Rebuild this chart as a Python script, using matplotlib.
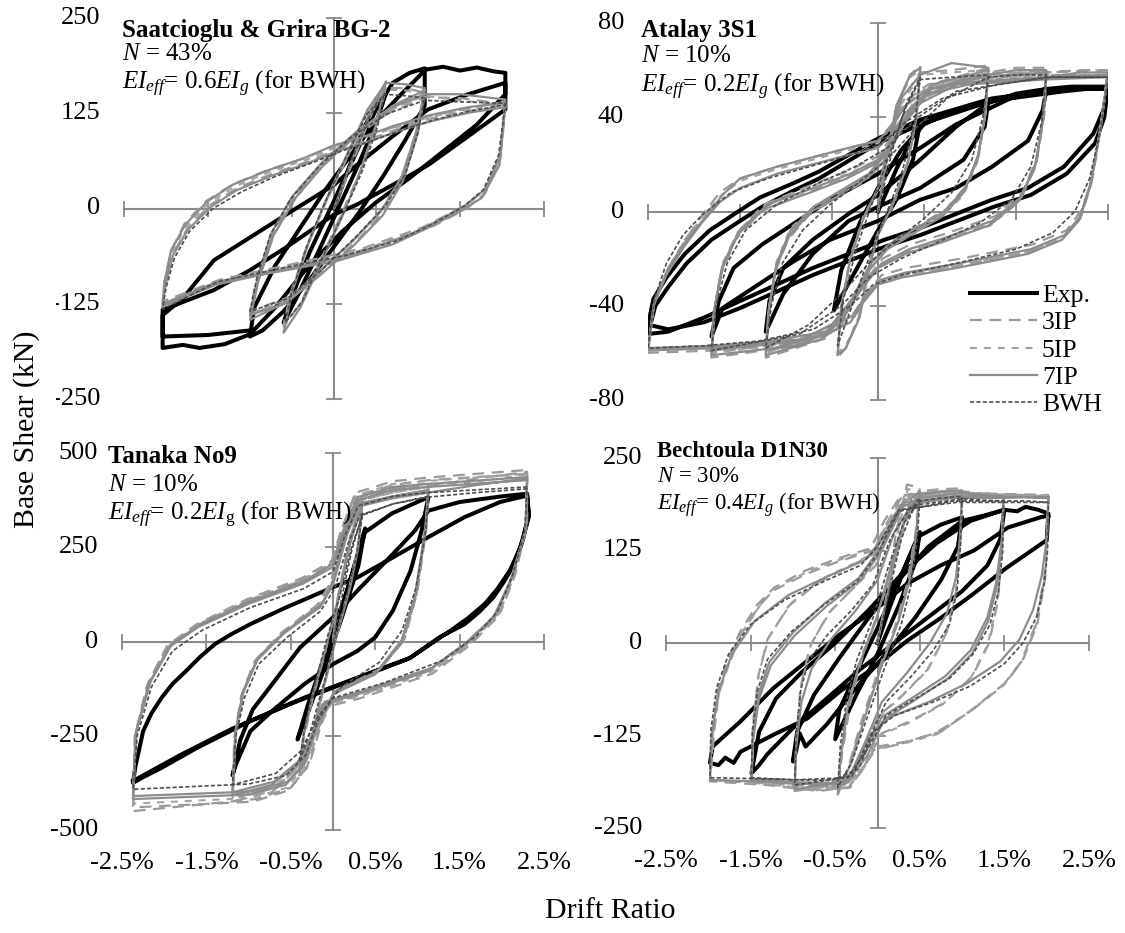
import matplotlib
matplotlib.use("Agg")
import matplotlib.pyplot as plt
from matplotlib import transforms
from matplotlib.patches import Rectangle

plt.rcParams.update({
    "font.family": ["Liberation Serif", "DejaVu Serif"],
    "mathtext.fontset": "custom",
    "mathtext.rm": "Liberation Serif",
    "mathtext.it": "Liberation Serif:italic",
    "mathtext.bf": "Liberation Serif:bold",
    "lines.scale_dashes": False,
})

# ---------------------------------------------------------------------------
# Hysteresis paths: (drift ratio in %, base shear in kN)
# ---------------------------------------------------------------------------

# Saatcioglu & Grira BG-2
SG_EXP = [
    (0.00, 0), (0.15, 45), (0.35, 105), (0.55, 145), (0.62, 152),
    (0.52, 118), (0.30, 60), (0.05, 0), (-0.20, -60), (-0.45, -118), (-0.60, -150),
    (-0.50, -115), (-0.28, -55), (0.00, 10), (0.25, 70), (0.50, 130),
    (0.70, 165), (0.90, 178), (1.08, 184),
    (1.08, 135), (0.85, 90), (0.60, 45), (0.30, -5), (0.00, -50), (-0.30, -95), (-0.60, -135), (-0.85, -160), (-1.00, -168),
    (-0.95, -130), (-0.70, -75), (-0.40, -25), (-0.10, 25), (0.20, 70), (0.50, 115), (0.80, 150), (1.00, 172),
    (1.08, 182), (1.30, 186), (1.50, 181), (1.70, 185), (1.90, 180), (2.04, 178),
    (2.04, 150), (1.70, 110), (1.30, 75), (0.90, 40), (0.50, 8), (0.10, -30), (-0.30, -75), (-0.70, -130), (-1.00, -165),
    (-1.30, -178), (-1.60, -183), (-1.80, -179), (-2.04, -183),
    (-2.04, -140), (-1.80, -118), (-1.43, -68), (-1.00, -38), (-0.57, -8), (0.00, 31), (0.27, 57), (0.70, 95), (1.12, 130), (1.60, 150), (2.04, 165),
    (2.04, 130), (1.55, 91), (1.12, 57), (0.70, 31), (0.27, 5), (0.00, -8), (-0.57, -51), (-1.00, -81), (-1.43, -107), (-2.04, -133),
    (-2.04, -168), (-1.50, -166), (-1.00, -160),
]
SG_3IP = [
    (0.00, 0), (0.22, 60), (0.45, 125), (0.62, 160),
    (0.52, 115), (0.32, 50), (0.10, -5), (-0.15, -65), (-0.40, -125), (-0.60, -155),
    (-0.52, -112), (-0.32, -48), (-0.10, 8), (0.15, 65), (0.40, 125), (0.62, 158),
    (0.85, 158), (1.08, 152),
    (0.99, 105), (0.82, 45), (0.58, 0), (0.25, -40), (-0.15, -80), (-0.55, -118), (-1.00, -140),
    (-0.92, -100), (-0.75, -40), (-0.50, 10), (-0.15, 55), (0.25, 95), (0.65, 128), (1.08, 150),
    (1.00, 100), (0.84, 42), (0.60, -3), (0.27, -43), (-0.13, -82), (-0.53, -116), (-1.00, -135),
    (-0.93, -97), (-0.76, -38), (-0.52, 12), (-0.17, 52), (0.23, 92), (0.63, 124), (1.08, 146),
    (1.50, 145), (2.04, 137),
    (1.98, 65), (1.80, 20), (1.58, 0), (1.20, -22), (0.75, -42), (0.10, -62), (-0.50, -76), (-1.35, -95), (-2.04, -130),
    (-2.01, -100), (-1.92, -60), (-1.74, -25), (-1.47, 5), (-1.15, 27), (-0.75, 45), (-0.30, 62), (0.05, 78), (0.35, 88),
    (0.75, 104), (1.15, 118), (1.60, 128), (2.04, 134),
    (1.99, 75), (1.83, 30), (1.60, 6), (1.05, -25), (0.35, -52), (-0.45, -72), (-1.35, -93), (-2.04, -122),
    (-2.02, -96), (-1.94, -56), (-1.78, -20), (-1.52, 10), (-1.20, 32), (-0.80, 50), (-0.35, 66), (0.00, 82), (0.30, 92),
    (0.72, 107), (1.12, 121), (1.58, 131), (2.04, 140),
]
SG_5IP = [
    (0.00, 0), (0.21, 58), (0.46, 128), (0.62, 158),
    (0.51, 112), (0.31, 48), (0.09, -8), (-0.16, -68), (-0.41, -128), (-0.60, -152),
    (-0.51, -112), (-0.31, -46), (-0.09, 9), (0.16, 68), (0.41, 128), (0.62, 156),
    (0.85, 155), (1.08, 150),
    (0.98, 102), (0.81, 42), (0.56, -3), (0.22, -43), (-0.18, -83), (-0.58, -122), (-1.00, -138),
    (-0.91, -98), (-0.73, -38), (-0.47, 12), (-0.12, 58), (0.28, 98), (0.68, 131), (1.08, 148),
    (1.50, 142), (2.04, 135),
    (1.97, 60), (1.78, 17), (1.54, -2), (1.15, -24), (0.72, -45), (0.08, -66), (-0.55, -79), (-1.40, -97), (-2.04, -128),
    (-2.02, -99), (-1.93, -58), (-1.76, -23), (-1.49, 7), (-1.18, 29), (-0.77, 48), (-0.33, 64), (0.02, 80), (0.30, 90),
    (0.72, 106), (1.14, 120), (1.60, 130), (2.04, 136),
    (1.98, 72), (1.81, 27), (1.57, 4), (1.02, -28), (0.32, -55), (-0.48, -75), (-1.38, -97), (-2.04, -125),
]
SG_7IP = [
    (0.00, 0), (0.20, 60), (0.45, 130), (0.62, 167),
    (0.50, 110), (0.30, 45), (0.10, -10), (-0.15, -70), (-0.40, -130), (-0.60, -163),
    (-0.50, -110), (-0.30, -45), (-0.10, 10), (0.15, 70), (0.40, 130), (0.62, 165),
    (0.85, 163), (1.08, 158),
    (0.98, 100), (0.80, 40), (0.55, -5), (0.20, -45), (-0.20, -85), (-0.60, -125), (-1.00, -146),
    (-0.90, -95), (-0.72, -35), (-0.45, 15), (-0.10, 60), (0.30, 100), (0.70, 135), (1.08, 155),
    (0.99, 96), (0.82, 36), (0.58, -9), (0.23, -49), (-0.17, -88), (-0.57, -124), (-1.00, -140),
    (-0.91, -91), (-0.74, -31), (-0.48, 18), (-0.13, 62), (0.27, 101), (0.67, 132), (1.08, 150),
    (1.50, 150), (2.04, 143),
    (1.97, 57), (1.76, 14), (1.51, -3), (1.12, -25), (0.70, -47), (0.06, -68), (-0.57, -81), (-1.43, -98), (-2.04, -125),
    (-2.02, -98), (-1.94, -55), (-1.77, -21), (-1.51, 9), (-1.21, 31), (-0.79, 50), (-0.36, 66), (0.00, 83), (0.27, 91),
    (0.70, 108), (1.12, 122), (1.60, 133), (2.04, 139),
    (1.98, 70), (1.80, 25), (1.55, 3), (1.00, -30), (0.30, -58), (-0.50, -78), (-1.40, -100), (-2.04, -128),
    (-2.01, -102), (-1.92, -62), (-1.74, -28), (-1.47, 2), (-1.16, 24), (-0.74, 43), (-0.30, 60), (0.05, 76), (0.33, 85),
    (0.75, 101), (1.17, 115), (1.62, 126), (2.04, 133),
]
SG_BWH = [
    (0.00, 0), (0.18, 55), (0.42, 120), (0.60, 150),
    (0.52, 108), (0.34, 50), (0.14, 0), (-0.12, -60), (-0.38, -122), (-0.58, -150),
    (-0.50, -108), (-0.32, -48), (-0.12, 5), (0.12, 62), (0.38, 122), (0.60, 150),
    (0.85, 148), (1.08, 145),
    (1.00, 100), (0.85, 45), (0.62, 5), (0.28, -35), (-0.12, -78), (-0.55, -118), (-1.00, -135),
    (-0.92, -92), (-0.76, -35), (-0.52, 12), (-0.18, 55), (0.22, 95), (0.65, 125), (1.08, 142),
    (1.50, 140), (2.04, 138),
    (1.96, 70), (1.78, 25), (1.56, 4), (1.18, -20), (0.76, -42), (0.12, -62), (-0.52, -76), (-1.38, -96), (-2.04, -132),
    (-2.00, -104), (-1.90, -65), (-1.72, -30), (-1.44, 0), (-1.10, 22), (-0.70, 42), (-0.26, 60), (0.08, 75), (0.38, 86),
    (0.78, 102), (1.18, 116), (1.62, 128), (2.04, 136),
]

# Atalay 3S1
AT_EXP = [
    (0.00, 0), (0.20, 18), (0.46, 38),
    (0.38, 22), (0.20, 5), (0.00, -8), (-0.20, -22), (-0.48, -42),
    (-0.40, -25), (-0.20, -5), (0.00, 10), (0.25, 26), (0.50, 37),
    (0.85, 43), (1.20, 47),
    (1.16, 36), (0.93, 22), (0.46, 10), (0.00, 2), (-0.32, -4), (-0.71, -18), (-1.03, -35), (-1.22, -51),
    (-1.18, -38), (-1.03, -24), (-0.71, -12), (-0.32, -1), (0.00, 7), (0.46, 22), (0.85, 36), (1.20, 46),
    (1.50, 50), (1.83, 52),
    (1.79, 43), (1.63, 30), (1.24, 19), (0.85, 10), (0.46, 5), (0.00, -4), (-0.52, -12), (-0.91, -21), (-1.30, -31),
    (-1.69, -41), (-1.81, -53),
    (-1.73, -38), (-1.57, -24), (-1.26, -14), (-0.91, -5), (-0.52, 5), (0.00, 16), (0.46, 27), (0.85, 37), (1.44, 48), (1.83, 52),
    (2.10, 53), (2.50, 53),
    (2.45, 43), (2.34, 33), (2.02, 19), (1.63, 10), (1.24, 5), (0.85, -1), (0.46, -7), (0.07, -12), (-0.71, -24),
    (-1.10, -31), (-1.50, -38), (-1.89, -45), (-2.28, -51), (-2.50, -52),
    (-2.42, -40), (-2.28, -32), (-2.08, -22), (-1.81, -12), (-1.50, -4), (-1.26, 2), (-0.91, 9), (-0.64, 14), (0.00, 29),
    (0.46, 37), (1.24, 47), (2.02, 51), (2.50, 53),
    (2.46, 40), (2.36, 29), (2.05, 16), (1.66, 7), (1.26, 2), (0.86, -4), (0.46, -10), (0.07, -15), (-0.71, -27),
    (-1.10, -34), (-1.50, -41), (-1.89, -47), (-2.28, -50), (-2.50, -48),
    (-2.44, -37), (-2.30, -28), (-2.10, -18), (-1.83, -8), (-1.52, 0), (-1.28, 6), (-0.92, 12), (-0.64, 17), (0.00, 31),
    (0.46, 39), (1.24, 48), (2.02, 52), (2.50, 52),
]
AT_3IP = [
    (0.00, 0), (0.10, 24), (0.20, 44), (0.35, 58), (0.46, 62),
    (0.42, 42), (0.33, 22), (0.16, 3), (0.00, -9), (-0.10, -24), (-0.20, -44), (-0.35, -58), (-0.44, -62),
    (-0.40, -42), (-0.31, -22), (-0.16, -3), (0.00, 9), (0.10, 24), (0.25, 47), (0.46, 59),
    (0.80, 60), (1.20, 62),
    (1.17, 42), (1.09, 23), (0.94, 9), (0.72, -1), (0.42, -8), (0.12, -15), (-0.08, -24), (-0.28, -39), (-0.58, -54), (-1.22, -62),
    (-1.19, -42), (-1.11, -23), (-0.96, -9), (-0.72, 1), (-0.42, 8), (-0.12, 15), (0.08, 24), (0.28, 39), (0.58, 54), (1.20, 61),
    (1.17, 43), (1.10, 25), (0.96, 11), (0.74, 1), (0.44, -6), (0.14, -13), (-0.06, -21), (-0.26, -36), (-0.56, -51), (-1.22, -60),
    (-1.19, -44), (-1.12, -26), (-0.98, -12), (-0.74, -1), (-0.44, 6), (-0.14, 13), (0.06, 21), (0.26, 36), (0.56, 51), (1.20, 59),
    (1.50, 61), (1.83, 61),
    (1.80, 40), (1.72, 20), (1.55, 5), (1.24, -5), (0.74, -12), (0.32, -17), (0.02, -23), (-0.18, -33), (-0.43, -49),
    (-0.88, -57), (-1.81, -62),
    (-1.78, -42), (-1.70, -24), (-1.53, -9), (-1.24, 3), (-0.74, 11), (-0.34, 17), (-0.02, 23), (0.18, 33), (0.43, 49),
    (0.88, 57), (1.83, 60),
    (1.81, 42), (1.73, 23), (1.57, 8), (1.27, -2), (0.77, -9), (0.35, -14), (0.05, -20), (-0.15, -30), (-0.40, -46),
    (-0.85, -55), (-1.81, -60),
    (-1.79, -44), (-1.71, -27), (-1.55, -12), (-1.27, 0), (-0.77, 8), (-0.37, 14), (-0.05, 20), (0.15, 30), (0.40, 46),
    (0.85, 55), (1.83, 59),
    (2.20, 60), (2.50, 60),
    (2.42, 36), (2.32, 12), (2.20, -3), (2.02, -11), (1.65, -17), (0.88, -23), (0.28, -27), (0.02, -30), (-0.13, -37),
    (-0.28, -46), (-0.58, -53), (-1.18, -57), (-1.78, -59), (-2.50, -60),
    (-2.44, -40), (-2.30, -26), (-2.11, -13), (-1.92, -2), (-1.72, 8), (-1.50, 14), (-1.10, 19), (-0.71, 23), (-0.32, 27),
    (0.00, 30), (0.15, 37), (0.30, 47), (0.55, 54), (1.00, 57), (1.80, 59), (2.50, 60),
    (2.43, 38), (2.34, 16), (2.22, 1), (2.05, -8), (1.68, -14), (0.90, -20), (0.30, -24), (0.04, -27), (-0.11, -34),
    (-0.26, -43), (-0.56, -51), (-1.16, -55), (-1.76, -57), (-2.50, -58),
]
AT_5IP = [
    (0.00, 0), (0.11, 24), (0.21, 45), (0.35, 57), (0.46, 60),
    (0.42, 41), (0.33, 21), (0.16, 2), (0.00, -9), (-0.11, -24), (-0.21, -45), (-0.35, -57), (-0.44, -60),
    (-0.40, -41), (-0.31, -21), (-0.16, -2), (0.00, 9), (0.11, 24), (0.26, 46), (0.46, 58),
    (0.80, 59), (1.20, 60),
    (1.16, 41), (1.08, 21), (0.93, 7), (0.70, -2), (0.40, -9), (0.10, -16), (-0.10, -25), (-0.30, -40), (-0.60, -53), (-1.22, -60),
    (-1.18, -41), (-1.10, -21), (-0.95, -7), (-0.70, 2), (-0.40, 9), (-0.10, 16), (0.10, 25), (0.30, 40), (0.60, 53), (1.20, 59),
    (1.50, 59), (1.83, 59),
    (1.79, 39), (1.71, 19), (1.53, 4), (1.22, -6), (0.72, -12), (0.30, -18), (0.00, -24), (-0.20, -34), (-0.45, -50),
    (-0.90, -56), (-1.81, -60),
    (-1.77, -40), (-1.69, -22), (-1.51, -8), (-1.22, 3), (-0.72, 11), (-0.32, 16), (0.00, 22), (0.20, 32), (0.45, 48),
    (0.90, 55), (1.83, 58),
    (2.20, 58), (2.50, 58),
    (2.41, 34), (2.31, 11), (2.19, -3), (2.01, -11), (1.64, -17), (0.86, -23), (0.27, -27), (0.00, -30), (-0.14, -37),
    (-0.29, -46), (-0.59, -52), (-1.19, -56), (-1.79, -58), (-2.50, -59),
    (-2.43, -39), (-2.29, -25), (-2.10, -12), (-1.90, -2), (-1.70, 7), (-1.50, 13), (-1.10, 18), (-0.71, 22), (-0.32, 26),
    (0.00, 29), (0.15, 36), (0.30, 46), (0.55, 53), (1.00, 56), (1.80, 58), (2.50, 58),
]
AT_7IP = [
    (0.00, 0), (0.10, 25), (0.20, 45), (0.35, 58), (0.46, 61),
    (0.42, 40), (0.32, 20), (0.15, 2), (0.00, -10), (-0.10, -25), (-0.20, -45), (-0.35, -58), (-0.44, -61),
    (-0.40, -40), (-0.30, -20), (-0.15, -2), (0.00, 10), (0.10, 25), (0.25, 48), (0.46, 58),
    (0.80, 63), (1.20, 61),
    (1.16, 40), (1.08, 22), (0.93, 8), (0.70, -2), (0.40, -9), (0.10, -16), (-0.10, -25), (-0.30, -40), (-0.60, -54), (-1.22, -61),
    (-1.18, -40), (-1.10, -22), (-0.95, -8), (-0.70, 2), (-0.40, 9), (-0.10, 16), (0.10, 25), (0.30, 40), (0.60, 54), (1.20, 60),
    (1.17, 42), (1.09, 24), (0.95, 10), (0.72, 0), (0.42, -7), (0.12, -14), (-0.08, -22), (-0.28, -37), (-0.58, -52), (-1.22, -59),
    (-1.19, -42), (-1.11, -24), (-0.96, -10), (-0.72, 0), (-0.42, 7), (-0.12, 14), (0.08, 22), (0.28, 37), (0.58, 52), (1.20, 58),
    (1.50, 60), (1.83, 60),
    (1.79, 38), (1.70, 18), (1.52, 4), (1.20, -6), (0.70, -13), (0.30, -18), (0.00, -24), (-0.20, -34), (-0.45, -50),
    (-0.90, -57), (-1.81, -61),
    (-1.77, -40), (-1.68, -22), (-1.50, -8), (-1.20, 3), (-0.70, 10), (-0.30, 16), (0.00, 22), (0.20, 32), (0.45, 48),
    (0.90, 56), (1.83, 59),
    (1.80, 41), (1.72, 21), (1.55, 6), (1.24, -4), (0.74, -11), (0.34, -16), (0.04, -22), (-0.16, -31), (-0.41, -46),
    (-0.86, -55), (-1.81, -59),
    (-1.78, -42), (-1.70, -25), (-1.53, -10), (-1.24, 1), (-0.74, 8), (-0.34, 14), (-0.04, 20), (0.16, 29), (0.41, 45),
    (0.86, 54), (1.83, 57),
    (2.20, 59), (2.50, 59),
    (2.41, 33), (2.30, 10), (2.18, -4), (2.00, -12), (1.63, -18), (0.85, -24), (0.26, -28), (0.00, -31), (-0.15, -38),
    (-0.30, -47), (-0.60, -53), (-1.20, -56), (-1.80, -58), (-2.50, -59),
    (-2.43, -38), (-2.28, -24), (-2.08, -12), (-1.89, -3), (-1.69, 7), (-1.50, 14), (-1.10, 19), (-0.71, 23), (-0.32, 27),
    (0.00, 30), (0.15, 36), (0.30, 45), (0.55, 52), (1.00, 55), (1.80, 57), (2.50, 58),
    (2.42, 36), (2.32, 13), (2.20, -2), (2.03, -10), (1.66, -16), (0.88, -22), (0.29, -26), (0.03, -29), (-0.12, -35),
    (-0.27, -44), (-0.57, -51), (-1.17, -55), (-1.77, -57), (-2.50, -58),
    (-2.44, -40), (-2.30, -27), (-2.11, -15), (-1.92, -5), (-1.72, 4), (-1.50, 10), (-1.10, 16), (-0.71, 20), (-0.32, 24),
    (0.00, 27), (0.15, 33), (0.30, 42), (0.55, 50), (1.00, 54), (1.80, 56), (2.50, 57),
]
AT_BWH = [
    (0.00, 0), (0.15, 25), (0.30, 45), (0.46, 57),
    (0.40, 38), (0.25, 15), (0.05, -5), (-0.15, -25), (-0.30, -42), (-0.44, -57),
    (-0.38, -38), (-0.23, -15), (-0.05, 5), (0.15, 27), (0.30, 44), (0.46, 56),
    (0.80, 57), (1.20, 58),
    (1.14, 40), (1.02, 22), (0.80, 8), (0.50, -3), (0.20, -12), (-0.10, -22), (-0.40, -35), (-0.75, -48), (-1.22, -58),
    (-1.16, -40), (-1.04, -22), (-0.82, -8), (-0.52, 3), (-0.22, 12), (0.10, 22), (0.40, 35), (0.75, 48), (1.20, 57),
    (1.50, 58), (1.83, 58),
    (1.78, 38), (1.66, 19), (1.45, 5), (1.10, -5), (0.65, -13), (0.25, -20), (-0.10, -28), (-0.40, -40), (-0.85, -52), (-1.81, -59),
    (-1.76, -40), (-1.64, -22), (-1.44, -8), (-1.10, 3), (-0.65, 12), (-0.25, 19), (0.10, 27), (0.40, 39), (0.85, 51), (1.83, 57),
    (2.20, 57), (2.50, 57),
    (2.42, 35), (2.30, 14), (2.14, 0), (1.90, -9), (1.50, -16), (0.85, -22), (0.25, -27), (-0.05, -31), (-0.30, -40),
    (-0.70, -50), (-1.30, -55), (-1.90, -57), (-2.50, -58),
    (-2.43, -37), (-2.30, -22), (-2.12, -10), (-1.90, -1), (-1.60, 8), (-1.20, 14), (-0.75, 19), (-0.30, 24), (0.05, 29),
    (0.30, 38), (0.70, 48), (1.30, 54), (1.90, 57), (2.50, 57),
]

# Tanaka No9
TN_EXP = [
    (0.00, 0), (0.10, 80), (0.25, 200), (0.38, 300),
    (0.30, 200), (0.10, 60), (-0.10, -70), (-0.30, -190), (-0.42, -260),
    (-0.30, -170), (-0.10, -40), (0.10, 90), (0.30, 230), (0.38, 290),
    (0.70, 340), (1.13, 383),
    (1.05, 294), (0.92, 188), (0.71, 82), (0.50, 11), (0.29, -25), (0.00, -60), (-0.34, -113), (-0.72, -184),
    (-0.98, -238), (-1.15, -326), (-1.19, -355),
    (-1.10, -262), (-0.95, -180), (-0.72, -113), (-0.39, -16), (0.00, 64), (0.29, 135), (0.71, 232), (0.97, 294), (1.13, 347),
    (1.50, 370), (2.00, 385), (2.30, 392),
    (2.32, 339), (2.25, 270), (2.15, 206), (2.03, 160), (1.90, 117), (1.73, 78), (1.56, 46), (1.26, 11), (0.92, -43),
    (0.29, -96), (-0.34, -149), (-0.98, -211), (-1.61, -282), (-2.03, -335), (-2.25, -360), (-2.37, -375),
    (-2.34, -330), (-2.30, -290), (-2.25, -238), (-2.15, -190), (-2.03, -149), (-1.90, -112), (-1.74, -78),
    (-1.58, -42), (-1.40, -7), (-1.20, 20), (-0.98, 46), (-0.56, 90), (0.00, 144),
    (0.29, 170), (0.71, 223), (1.13, 277), (1.56, 330), (1.98, 370), (2.30, 387),
    (2.32, 330), (2.22, 250), (2.10, 190), (1.95, 140), (1.80, 100), (1.60, 62), (1.40, 30), (0.90, -45),
    (0.20, -105), (-0.50, -165), (-1.20, -232), (-1.80, -300), (-2.37, -370),
]
TN_3IP = [
    (0.00, 0), (0.05, 110), (0.20, 275), (0.35, 390),
    (0.30, 260), (0.20, 150), (0.05, 25), (-0.10, -115), (-0.25, -260), (-0.40, -355),
    (-0.35, -262), (-0.25, -160), (-0.10, -35), (0.05, 105), (0.20, 272), (0.35, 385),
    (0.71, 405), (1.13, 420),
    (1.10, 300), (0.99, 125), (0.83, 0), (0.53, -80), (0.03, -135), (-0.19, -235), (-0.40, -330), (-0.70, -395), (-1.19, -425),
    (-1.16, -250), (-1.08, -140), (-0.92, -50), (-0.60, 25), (-0.17, 100), (0.00, 165), (0.15, 300), (0.28, 380),
    (0.71, 405), (1.13, 418),
    (1.11, 305), (1.00, 132), (0.85, 8), (0.56, -72), (0.06, -128), (-0.16, -226), (-0.37, -320), (-0.66, -385), (-1.19, -415),
    (-1.17, -258), (-1.09, -148), (-0.94, -58), (-0.63, 18), (-0.20, 92), (-0.03, 155), (0.13, 290), (0.26, 372),
    (0.71, 398), (1.13, 412),
    (1.70, 432), (2.30, 450),
    (2.29, 300), (2.13, 165), (1.95, 65), (1.62, -10), (1.18, -85), (0.33, -150), (-0.10, -175), (-0.19, -245),
    (-0.31, -335), (-0.53, -395), (-0.95, -425), (-2.37, -440),
    (-2.34, -245), (-2.19, -110), (-1.96, -10), (-1.62, 45), (-1.02, 112), (-0.37, 168), (0.00, 215), (0.11, 300),
    (0.27, 395), (0.71, 425), (1.13, 435), (2.30, 455),
    (2.30, 310), (2.16, 178), (1.99, 80), (1.67, 5), (1.23, -70), (0.38, -138), (-0.06, -165), (-0.16, -235),
    (-0.28, -325), (-0.50, -388), (-0.92, -418), (-2.37, -450),
    (-2.35, -255), (-2.21, -122), (-1.99, -22), (-1.66, 35), (-1.06, 104), (-0.40, 160), (-0.03, 205), (0.09, 290),
    (0.25, 385), (0.71, 415), (1.13, 428), (2.30, 445),
]
TN_5IP = [
    (0.00, 0), (0.05, 105), (0.20, 268), (0.35, 380),
    (0.30, 255), (0.20, 145), (0.05, 22), (-0.10, -112), (-0.25, -255), (-0.40, -350),
    (-0.35, -255), (-0.25, -155), (-0.10, -32), (0.05, 102), (0.20, 266), (0.35, 376),
    (0.71, 395), (1.13, 410),
    (1.10, 296), (0.98, 120), (0.81, -3), (0.51, -84), (0.01, -138), (-0.20, -236), (-0.41, -328), (-0.71, -388), (-1.19, -418),
    (-1.15, -244), (-1.07, -135), (-0.90, -46), (-0.58, 27), (-0.15, 100), (0.00, 163), (0.16, 297), (0.29, 372),
    (0.71, 395), (1.13, 410),
    (1.70, 424), (2.30, 443),
    (2.28, 297), (2.11, 163), (1.92, 64), (1.59, -8), (1.15, -82), (0.31, -145), (-0.12, -171), (-0.21, -242),
    (-0.33, -330), (-0.55, -388), (-0.97, -415), (-2.37, -430),
    (-2.33, -242), (-2.17, -107), (-1.93, -8), (-1.59, 46), (-1.00, 110), (-0.35, 164), (0.00, 210), (0.12, 297),
    (0.28, 388), (0.71, 418), (1.13, 426), (2.30, 445),
]
TN_7IP = [
    (0.00, 0), (0.05, 100), (0.20, 260), (0.35, 370),
    (0.30, 250), (0.20, 140), (0.05, 20), (-0.10, -110), (-0.25, -250), (-0.40, -345),
    (-0.35, -250), (-0.25, -150), (-0.10, -30), (0.05, 100), (0.20, 260), (0.35, 365),
    (0.71, 385), (1.13, 402),
    (1.09, 294), (0.97, 117), (0.80, -7), (0.50, -87), (0.00, -140), (-0.22, -238), (-0.43, -326), (-0.72, -380), (-1.19, -408),
    (-1.15, -238), (-1.06, -131), (-0.89, -43), (-0.56, 28), (-0.13, 99), (0.00, 161), (0.16, 294), (0.29, 365),
    (0.71, 385), (1.13, 400),
    (1.10, 300), (0.98, 125), (0.82, 5), (0.52, -80), (0.02, -132), (-0.20, -228), (-0.41, -318), (-0.70, -372), (-1.19, -400),
    (-1.16, -245), (-1.07, -138), (-0.90, -50), (-0.58, 22), (-0.15, 92), (0.00, 150), (0.17, 285), (0.30, 358),
    (0.71, 380), (1.13, 395),
    (1.70, 415), (2.30, 432),
    (2.28, 294), (2.10, 161), (1.90, 64), (1.56, -7), (1.13, -78), (0.29, -140), (-0.13, -167), (-0.22, -238),
    (-0.34, -326), (-0.56, -380), (-0.98, -406), (-2.37, -418),
    (-2.33, -238), (-2.16, -105), (-1.91, -7), (-1.57, 46), (-0.98, 108), (-0.34, 161), (0.00, 206), (0.12, 294),
    (0.29, 383), (0.71, 410), (1.13, 418), (2.30, 436),
    (2.29, 300), (2.12, 170), (1.93, 72), (1.60, 0), (1.17, -70), (0.33, -133), (-0.10, -160), (-0.20, -230),
    (-0.32, -318), (-0.54, -372), (-0.96, -398), (-2.37, -410),
    (-2.34, -245), (-2.18, -112), (-1.94, -15), (-1.60, 38), (-1.00, 100), (-0.36, 153), (0.00, 198), (0.13, 285),
    (0.30, 375), (0.71, 402), (1.13, 410), (2.30, 428),
]
TN_BWH = [
    (0.00, 0), (0.08, 90), (0.22, 240), (0.35, 340),
    (0.28, 230), (0.16, 120), (0.02, 0), (-0.12, -120), (-0.27, -240), (-0.40, -320),
    (-0.33, -220), (-0.21, -110), (-0.07, 10), (0.08, 120), (0.22, 250), (0.35, 335),
    (0.71, 365), (1.13, 385),
    (1.09, 280), (0.98, 140), (0.82, 30), (0.55, -55), (0.10, -120), (-0.18, -200), (-0.38, -290), (-0.68, -350), (-1.19, -380),
    (-1.15, -250), (-1.05, -150), (-0.88, -60), (-0.55, 10), (-0.15, 80), (0.02, 140), (0.18, 260), (0.32, 335),
    (0.71, 365), (1.13, 383),
    (1.70, 395), (2.30, 405),
    (2.27, 290), (2.12, 170), (1.95, 80), (1.70, 15), (1.30, -50), (0.60, -110), (0.00, -150), (-0.18, -210),
    (-0.32, -300), (-0.55, -355), (-1.00, -378), (-2.37, -392),
    (-2.32, -250), (-2.15, -120), (-1.90, -25), (-1.55, 30), (-0.98, 90), (-0.35, 140), (0.00, 185), (0.14, 280),
    (0.30, 360), (0.71, 385), (1.13, 395), (2.30, 410),
]

# Bechtoula D1N30
BC_EXP = [
    (0.00, 0), (0.15, 50), (0.35, 110), (0.50, 150),
    (0.45, 110), (0.25, 50), (0.00, -15), (-0.25, -70), (-0.50, -130),
    (-0.45, -90), (-0.25, -40), (0.00, 20), (0.25, 85), (0.50, 145),
    (0.75, 160), (1.00, 170),
    (0.95, 130), (0.75, 85), (0.45, 35), (0.10, -15), (-0.25, -60), (-0.60, -110), (-0.85, -140), (-0.92, -122),
    (-0.96, -145), (-1.00, -160),
    (-0.95, -120), (-0.75, -70), (-0.45, -20), (-0.10, 35), (0.25, 85), (0.60, 130), (1.00, 165),
    (1.25, 172), (1.50, 180),
    (1.45, 140), (1.30, 105), (1.00, 70), (0.60, 35), (0.20, 0), (-0.20, -35), (-0.60, -75), (-1.00, -115),
    (-1.30, -150), (-1.40, -165), (-1.49, -176),
    (-1.40, -120), (-1.20, -75), (-0.90, -40), (-0.50, 0), (-0.10, 45), (0.30, 95), (0.70, 135), (1.10, 165), (1.50, 180),
    (1.65, 178), (1.75, 184), (1.90, 180), (2.02, 175),
    (2.00, 139), (1.53, 102), (1.14, 67), (0.75, 34), (0.35, 3), (-0.05, -34), (-0.44, -65), (-0.83, -102),
    (-1.23, -124), (-1.62, -147), (-1.70, -162), (-1.80, -155), (-1.88, -165), (-1.98, -162),
    (-1.95, -140), (-1.62, -106), (-1.23, -61), (-0.83, -24), (-0.44, 12), (-0.05, 43), (0.35, 80), (0.75, 105),
    (1.14, 125), (1.54, 156), (1.93, 170), (2.02, 172),
]
BC_3IP = [
    (0.00, 0), (0.10, 60), (0.22, 150), (0.35, 214), (0.50, 210),
    (0.45, 150), (0.35, 80), (0.20, 20), (0.00, -40), (-0.20, -110), (-0.35, -170), (-0.47, -205),
    (-0.42, -150), (-0.32, -80), (-0.18, -20), (0.00, 40), (0.20, 110), (0.35, 175), (0.50, 205),
    (0.75, 208), (1.00, 209),
    (0.98, 140), (0.93, 70), (0.82, 15), (0.60, -35), (0.30, -70), (0.00, -100), (-0.15, -145), (-0.35, -190), (-0.98, -200),
    (-0.96, -130), (-0.91, -60), (-0.80, -5), (-0.58, 40), (-0.28, 75), (-0.02, 105), (0.15, 160), (0.40, 202), (1.00, 205),
    (1.25, 202), (1.49, 200),
    (1.47, 120), (1.42, 55), (1.32, 0), (1.12, -45), (0.80, -80), (0.40, -105), (0.05, -122), (-0.15, -165),
    (-0.40, -196), (-1.00, -192), (-1.49, -188),
    (-1.47, -110), (-1.41, -45), (-1.30, 5), (-1.05, 50), (-0.70, 82), (-0.30, 105), (-0.05, 120), (0.12, 160),
    (0.35, 198), (0.90, 200), (1.49, 200),
    (1.75, 200), (2.02, 198),
    (2.00, 140), (1.99, 94), (1.89, 26), (1.73, -20), (1.53, -52), (1.14, -88), (0.75, -120), (0.35, -133), (0.00, -140),
    (-0.15, -165), (-0.32, -195), (-0.70, -200), (-1.30, -192), (-1.98, -187),
    (-1.93, -120), (-1.88, -70), (-1.78, -34), (-1.62, 10), (-1.40, 50), (-1.23, 71), (-0.83, 94), (-0.44, 111),
    (-0.05, 125), (0.10, 160), (0.30, 200), (0.93, 203), (2.02, 200),
    (2.00, 135), (1.97, 88), (1.86, 22), (1.70, -25), (1.48, -58), (1.08, -94), (0.68, -122), (0.28, -136), (-0.05, -145),
    (-0.18, -172), (-0.35, -196), (-0.75, -198), (-1.35, -190), (-1.98, -185),
    (-1.94, -115), (-1.89, -65), (-1.79, -28), (-1.63, 14), (-1.42, 52), (-1.22, 75), (-0.85, 98), (-0.45, 115),
    (-0.08, 128), (0.08, 165), (0.28, 200), (0.93, 202), (2.02, 199),
]
BC_5IP = [
    (0.00, 0), (0.10, 58), (0.23, 145), (0.36, 208), (0.50, 205),
    (0.45, 145), (0.36, 78), (0.21, 18), (0.01, -42), (-0.19, -112), (-0.35, -170), (-0.47, -202),
    (-0.42, -145), (-0.33, -78), (-0.19, -18), (0.00, 38), (0.20, 108), (0.36, 172), (0.50, 202),
    (0.75, 205), (1.00, 206),
    (0.98, 135), (0.92, 65), (0.80, 10), (0.58, -38), (0.28, -73), (-0.02, -103), (-0.17, -148), (-0.37, -192), (-0.98, -198),
    (-0.96, -125), (-0.90, -55), (-0.78, 0), (-0.55, 44), (-0.25, 78), (0.00, 108), (0.17, 165), (0.42, 200), (1.00, 203),
    (1.25, 201), (1.49, 199),
    (1.47, 115), (1.41, 50), (1.30, -3), (1.10, -48), (0.77, -83), (0.37, -108), (0.02, -125), (-0.17, -168),
    (-0.42, -196), (-1.00, -190), (-1.49, -187),
    (-1.47, -105), (-1.40, -40), (-1.28, 9), (-1.02, 54), (-0.67, 86), (-0.27, 108), (-0.02, 123), (0.14, 165),
    (0.37, 198), (0.90, 199), (1.49, 199),
    (1.75, 199), (2.02, 197),
    (2.00, 136), (1.98, 90), (1.87, 22), (1.71, -24), (1.50, -56), (1.10, -92), (0.71, -123), (0.31, -136), (-0.03, -143),
    (-0.17, -168), (-0.34, -195), (-0.72, -199), (-1.32, -190), (-1.98, -185),
    (-1.94, -116), (-1.87, -66), (-1.76, -30), (-1.60, 14), (-1.37, 54), (-1.20, 75), (-0.80, 98), (-0.41, 114),
    (-0.03, 128), (0.12, 163), (0.32, 199), (0.93, 201), (2.02, 199),
]
BC_7IP = [
    (0.00, 0), (0.10, 55), (0.25, 140), (0.40, 195), (0.50, 205),
    (0.46, 150), (0.38, 85), (0.25, 30), (0.05, -30), (-0.15, -100), (-0.32, -165), (-0.47, -200),
    (-0.43, -150), (-0.35, -85), (-0.22, -30), (-0.02, 30), (0.15, 100), (0.32, 165), (0.50, 200),
    (0.75, 205), (1.00, 206),
    (0.98, 150), (0.93, 90), (0.82, 40), (0.62, 0), (0.35, -40), (0.05, -80), (-0.15, -135), (-0.35, -185), (-0.98, -198),
    (-0.96, -140), (-0.90, -80), (-0.78, -35), (-0.55, 5), (-0.25, 45), (0.00, 85), (0.20, 150), (0.45, 195), (1.00, 203),
    (1.25, 200), (1.49, 198),
    (1.47, 140), (1.40, 80), (1.30, 35), (1.10, -10), (0.80, -45), (0.40, -75), (0.05, -100), (-0.15, -150),
    (-0.40, -190), (-1.00, -190), (-1.49, -186),
    (-1.47, -130), (-1.40, -75), (-1.26, -30), (-0.98, 10), (-0.60, 50), (-0.20, 85), (0.05, 125), (0.30, 185),
    (0.90, 198), (1.49, 197),
    (1.47, 135), (1.41, 76), (1.31, 30), (1.12, -14), (0.83, -48), (0.43, -78), (0.08, -103), (-0.12, -152),
    (-0.37, -190), (-1.00, -188), (-1.49, -184),
    (-1.47, -125), (-1.41, -70), (-1.28, -26), (-1.00, 14), (-0.62, 54), (-0.22, 88), (0.03, 128), (0.28, 186),
    (0.90, 196), (1.49, 196),
    (1.75, 197), (2.02, 196),
    (2.00, 140), (1.94, 90), (1.84, 45), (1.68, 5), (1.45, -25), (1.05, -55), (0.60, -80), (0.15, -100), (-0.10, -125),
    (-0.28, -175), (-0.60, -192), (-1.20, -188), (-1.98, -185),
    (-1.96, -125), (-1.88, -65), (-1.72, -15), (-1.45, 30), (-1.05, 65), (-0.55, 92), (-0.15, 112), (0.05, 140),
    (0.30, 190), (0.93, 198), (2.02, 197),
]
BC_BWH = [
    (0.00, 0), (0.12, 60), (0.28, 140), (0.45, 190), (0.50, 195),
    (0.47, 140), (0.40, 80), (0.28, 25), (0.08, -35), (-0.12, -100), (-0.30, -160), (-0.47, -195),
    (-0.44, -140), (-0.37, -80), (-0.25, -25), (-0.05, 35), (0.12, 100), (0.30, 160), (0.50, 192),
    (0.75, 196), (1.00, 198),
    (0.98, 130), (0.94, 70), (0.85, 25), (0.66, -10), (0.40, -45), (0.10, -80), (-0.10, -130), (-0.30, -180), (-0.98, -192),
    (-0.96, -125), (-0.91, -65), (-0.82, -25), (-0.60, 10), (-0.30, 45), (-0.05, 80), (0.15, 140), (0.40, 185), (1.00, 195),
    (1.25, 193), (1.49, 192),
    (1.48, 125), (1.43, 70), (1.33, 25), (1.13, -15), (0.85, -48), (0.45, -75), (0.10, -98), (-0.10, -140),
    (-0.35, -182), (-1.00, -185), (-1.49, -182),
    (-1.48, -120), (-1.42, -65), (-1.30, -22), (-1.02, 15), (-0.65, 50), (-0.25, 82), (0.00, 120), (0.25, 178),
    (0.90, 192), (1.49, 192),
    (1.75, 192), (2.02, 190),
    (2.01, 125), (1.97, 80), (1.88, 35), (1.72, 0), (1.50, -28), (1.10, -58), (0.65, -80), (0.20, -98), (-0.05, -120),
    (-0.22, -170), (-0.55, -186), (-1.20, -184), (-1.98, -182),
    (-1.97, -118), (-1.90, -60), (-1.76, -15), (-1.50, 25), (-1.10, 58), (-0.60, 85), (-0.20, 105), (0.00, 130),
    (0.25, 180), (0.93, 190), (2.02, 190),
]

SERIES_NAMES = ["Exp.", "3IP", "5IP", "7IP", "BWH"]
STYLE = {
    "Exp.": dict(color="#000000", lw=2.9, zorder=2),
    "3IP": dict(color="#9a9a9a", lw=1.6, dashes=(8.5, 5.5), zorder=3),
    "5IP": dict(color="#a2a2a2", lw=1.5, dashes=(5.0, 5.0), zorder=3),
    "7IP": dict(color="#8c8c8c", lw=1.6, zorder=3),
    "BWH": dict(color="#4d4d4d", lw=1.2, dashes=(3.0, 1.6), zorder=4),
}

XTICKS = [-2.5, -1.5, -0.5, 0.5, 1.5, 2.5]
XTICK_LABELS = ["-2.5%", "-1.5%", "-0.5%", "0.5%", "1.5%", "2.5%"]

PANELS = [
    dict(box=(124, 18, 544, 399), ymax=250, yticks=[-250, -125, 0, 125, 250],
         data=[SG_EXP, SG_3IP, SG_5IP, SG_7IP, SG_BWH],
         title="Saatcioglu & Grira BG-2", lines=[r"$N$ = 43%", r"$EI_{eff}$= 0.6$EI_{g}$ (for BWH)"],
         tx=122, base=(37, 60, 89), fs=18, xlabels=False),
    dict(box=(648, 23, 1108, 400), ymax=80, yticks=[-80, -40, 0, 40, 80],
         data=[AT_EXP, AT_3IP, AT_5IP, AT_7IP, AT_BWH],
         title="Atalay 3S1", lines=[r"$N$ = 10%", r"$EI_{eff}$= 0.2$EI_{g}$ (for BWH)"],
         tx=641, base=(37, 62, 92), fs=18, xlabels=False),
    dict(box=(122, 453, 544, 830), ymax=500, yticks=[-500, -250, 0, 250, 500],
         data=[TN_EXP, TN_3IP, TN_5IP, TN_7IP, TN_BWH],
         title="Tanaka No9", lines=[r"$N$ = 10%", r"$EI_{eff}$= 0.2$EI_{\mathrm{g}}$ (for BWH)"],
         tx=108, base=(463, 491, 520), fs=18, xlabels=True),
    dict(box=(666, 458, 1089, 828), ymax=250, yticks=[-250, -125, 0, 125, 250],
         data=[BC_EXP, BC_3IP, BC_5IP, BC_7IP, BC_BWH],
         title="Bechtoula D1N30", lines=[r"$N$ = 30%", r"$EI_{eff}$= 0.4$EI_{g}$ (for BWH)"],
         tx=657, base=(457, 482, 510), fs=16.5, xlabels=True),
]

W, H = 1125, 933
AXIS_GREY = "#8a8a8a"
TICK_FS = 19

fig = plt.figure(figsize=(W / 100, H / 100), dpi=100)


def fig_xy(px, py):
    return px / W, 1 - py / H


axes = []
for p in PANELS:
    l, t, r, b = p["box"]
    ax = fig.add_axes([l / W, 1 - b / H, (r - l) / W, (b - t) / H])
    ax.patch.set_visible(False)
    for name, pts in zip(SERIES_NAMES, p["data"]):
        xs = [q[0] for q in pts]
        ys = [q[1] for q in pts]
        ax.plot(xs, ys, label=name, solid_joinstyle="round", dash_joinstyle="round", **STYLE[name])
    ax.set_xlim(-2.5, 2.5)
    ax.set_ylim(-p["ymax"], p["ymax"])
    for s in ("top", "right"):
        ax.spines[s].set_visible(False)
    for s in ("left", "bottom"):
        ax.spines[s].set_position(("data", 0))
        ax.spines[s].set_color(AXIS_GREY)
        ax.spines[s].set_linewidth(1.5)
        ax.spines[s].set_zorder(1)
    ax.set_axisbelow(True)
    ax.set_xticks(XTICKS)
    ax.set_yticks(p["yticks"])
    ax.tick_params(axis="both", direction="inout", length=11, width=1.3, color=AXIS_GREY,
                   labelleft=False, labelbottom=False)
    # value labels along the left edge of the plot area
    ytrans = transforms.offset_copy(ax.get_yaxis_transform(), fig=fig, x=-24, y=0, units="dots")
    for v in p["yticks"]:
        ax.text(0, v, f"{v}", transform=ytrans, ha="right", va="center", fontsize=TICK_FS, clip_on=False)
    if p["xlabels"]:
        xtrans = transforms.offset_copy(ax.get_xaxis_transform(), fig=fig, x=0, y=-33, units="dots")
        for v, lab in zip(XTICKS, XTICK_LABELS):
            ax.text(v, 0, lab, transform=xtrans, ha="center", va="center", fontsize=TICK_FS, clip_on=False)
    # specimen annotation
    fx, fy = fig_xy(p["tx"], p["base"][0])
    fig.text(fx, fy, p["title"], fontsize=p["fs"], fontweight="bold", va="baseline", ha="left")
    for line, base in zip(p["lines"], p["base"][1:]):
        fx, fy = fig_xy(p["tx"], base)
        fig.text(fx, fy, line, fontsize=p["fs"], va="baseline", ha="left")
    axes.append(ax)

# legend inside the Atalay panel
handles, labels = axes[1].get_legend_handles_labels()
lx, ly = fig_xy(970, 284)
axes[1].legend(handles, labels, loc="upper left", bbox_to_anchor=(lx, ly), bbox_transform=fig.transFigure,
               frameon=False, fontsize=18.5, handlelength=2.6, handletextpad=0.2, labelspacing=0.17,
               borderpad=0, borderaxespad=0)

# opaque backing of the vertical axis title
fig.add_artist(Rectangle((0, 1 - 560 / H), 56 / W, (560 - 296) / H, transform=fig.transFigure,
                         facecolor="white", edgecolor="none", zorder=2.5))
fx, fy = fig_xy(27, 429)
fig.text(fx, fy, "Base Shear (kN)", rotation=90, ha="center", va="center", fontsize=21.5, zorder=3)
fx, fy = fig_xy(610, 911)
fig.text(fx, fy, "Drift Ratio", ha="center", va="center", fontsize=21.5)

fig.savefig("out.png", dpi=100, facecolor="white")
